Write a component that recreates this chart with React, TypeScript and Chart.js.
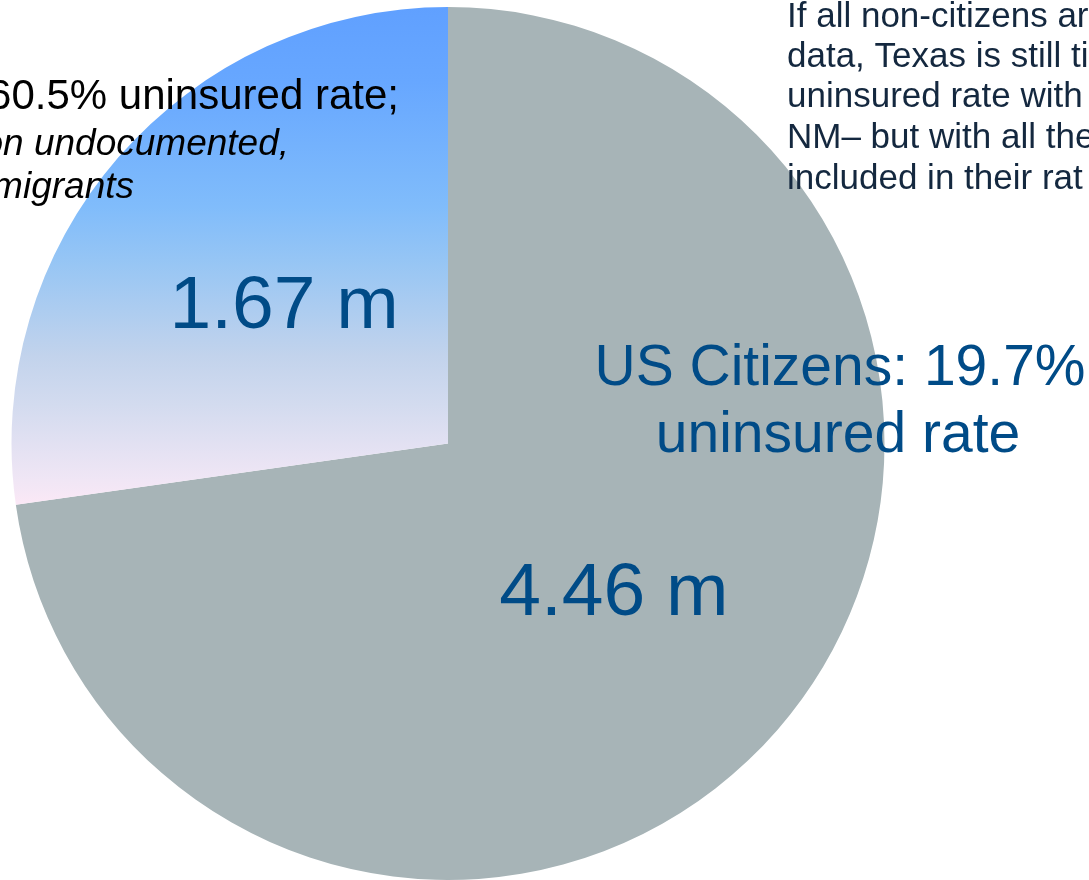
import React, { useEffect, useRef } from "react";
import { Chart, registerables } from "chart.js";

Chart.register(...registerables);

const categories = ["US Citizens", "Non-citizens"];
const values = [4.46, 1.67];
const valueLabels = ["4.46 m", "1.67 m"];
const citizenLabel = ["US Citizens: 19.7%", "uninsured rate"];
const nonCitizenLines = ["60.5% uninsured rate;", "on undocumented,", "migrants"];
const noteLines = [
  "If all non-citizens ar",
  "data, Texas is still ti",
  "uninsured rate with",
  "NM\u2013 but with all the",
  "included in their rat",
];

const GRAY = "#a7b4b7";
const LABEL_BLUE = "#004b87";
const NOTE_COLOR = "#14283f";
const FONT = "'Liberation Sans', Arial, Helvetica, sans-serif";

const gradientStops: [number, string][] = [
  [0, "#60a0ff"],
  [0.15, "#67a7ff"],
  [0.4, "#80bcfb"],
  [0.52, "#98c6f4"],
  [0.7, "#c2d3ec"],
  [0.8, "#d3dbef"],
  [0.95, "#f0e6f5"],
  [1, "#fbe8f6"],
];

function blueGradient(chart: any) {
  const area = chart.chartArea;
  if (!area) return "#80bcfb";
  const r = Math.min(area.right - area.left, area.bottom - area.top) / 2;
  const cy = (area.top + area.bottom) / 2;
  const total = values.reduce((a, b) => a + b, 0);
  const theta = (values[0] / total) * Math.PI * 2;
  const y0 = cy - r;
  const y1 = cy - r * Math.cos(theta);
  const g = chart.ctx.createLinearGradient(0, y0, 0, y1);
  gradientStops.forEach(([p, c]) => g.addColorStop(p, c));
  return g;
}

const labelPlugin = {
  id: "labels",
  afterDraw(chart: any) {
    const ctx = chart.ctx;
    const meta = chart.getDatasetMeta(0);
    ctx.save();
    meta.data.forEach((arc: any, i: number) => {
      const mid = (arc.startAngle + arc.endAngle) / 2;
      const x = arc.x + Math.cos(mid) * arc.outerRadius * 0.5;
      const y = arc.y + Math.sin(mid) * arc.outerRadius * 0.5;
      ctx.font = `75px ${FONT}`;
      ctx.fillStyle = LABEL_BLUE;
      ctx.textAlign = "center";
      ctx.textBaseline = "alphabetic";
      ctx.fillText(valueLabels[i], x + 1, y + 28);
    });
    ctx.font = `57px ${FONT}`;
    ctx.fillStyle = LABEL_BLUE;
    ctx.textAlign = "center";
    ctx.fillText(citizenLabel[0], 840, 385);
    ctx.fillText(citizenLabel[1], 838, 452);
    ctx.fillStyle = "#000000";
    ctx.textAlign = "right";
    ctx.font = `42px ${FONT}`;
    ctx.fillText(nonCitizenLines[0], 399, 109);
    ctx.font = `italic 37px ${FONT}`;
    ctx.fillText(nonCitizenLines[1], 289, 155);
    ctx.fillText(nonCitizenLines[2], 134, 198);
    ctx.fillStyle = NOTE_COLOR;
    ctx.textAlign = "left";
    ctx.font = `35px ${FONT}`;
    const baselines = [27, 67, 107, 148, 189];
    noteLines.forEach((t, i) => ctx.fillText(t, 787, baselines[i]));
    ctx.restore();
  },
};

export default function App() {
  const ref = useRef<HTMLCanvasElement>(null);
  useEffect(() => {
    if (!ref.current) return;
    const chart = new Chart(ref.current, {
      type: "pie",
      data: {
        labels: categories,
        datasets: [
          {
            data: values,
            backgroundColor: (ctx: any) =>
              ctx.dataIndex === 1 ? blueGradient(ctx.chart) : GRAY,
            borderWidth: 0,
          },
        ],
      },
      options: {
        responsive: false,
        animation: false,
        layout: { padding: { top: 7, bottom: 0, left: 11.5, right: 204.5 } },
        plugins: {
          legend: { display: false },
          tooltip: { enabled: false },
        },
      },
      plugins: [labelPlugin],
    });
    return () => chart.destroy();
  }, []);
  return (
    <div style={{ position: "fixed", left: 0, top: 0, width: 1089, height: 880, background: "#ffffff" }}>
      <canvas ref={ref} width={1089} height={880} />
    </div>
  );
}
